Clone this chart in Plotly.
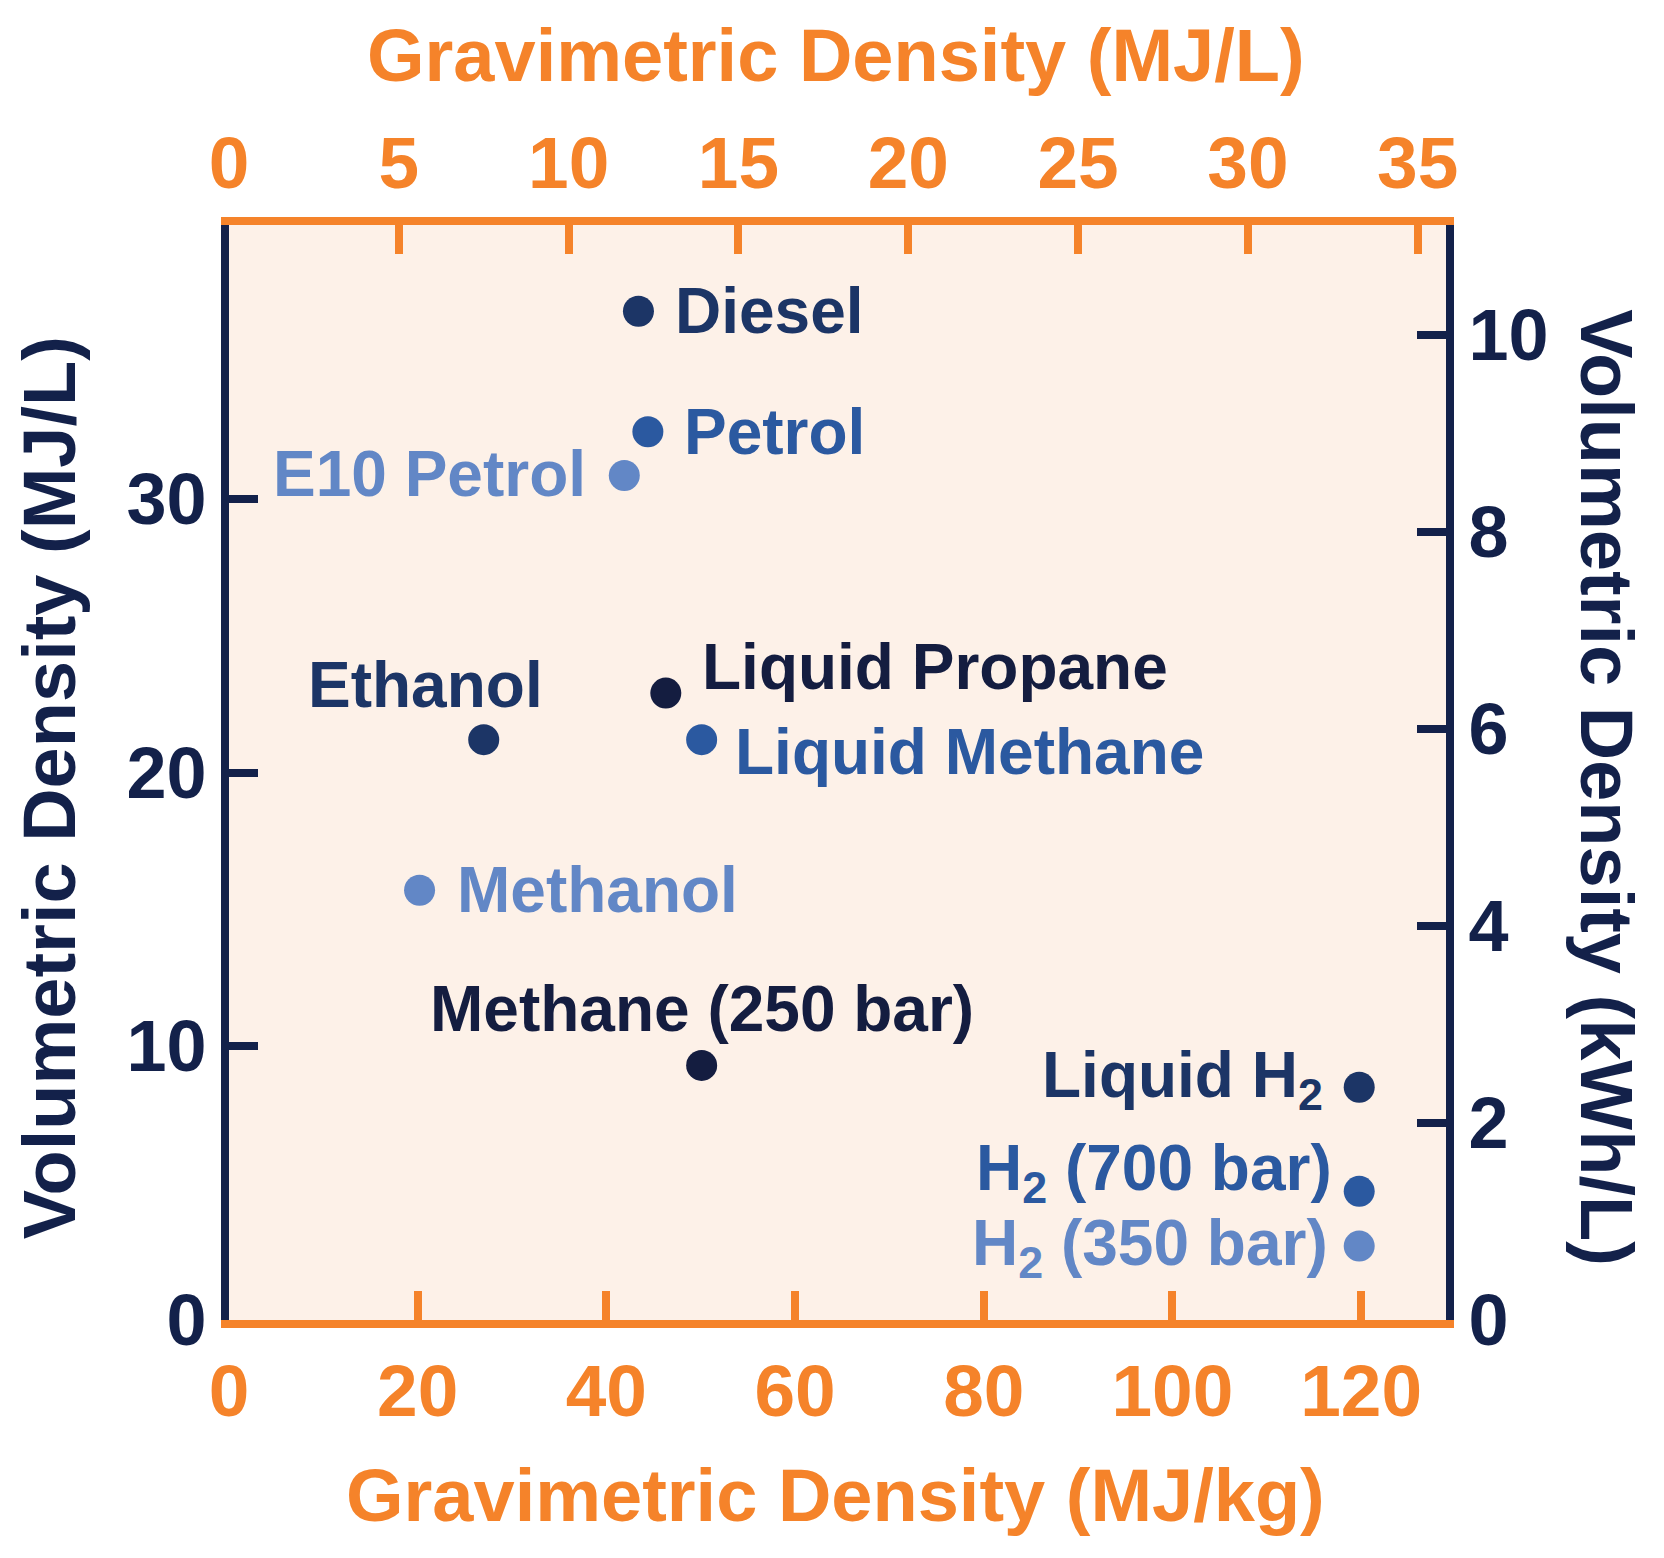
import plotly.graph_objects as go

# ---------------- data ----------------
fuels = ["Diesel", "Petrol", "E10 Petrol", "Liquid Propane", "Ethanol",
         "Liquid Methane", "Methanol", "Methane (250 bar)", "Liquid H<sub>2</sub>",
         "H<sub>2</sub> (700 bar)", "H<sub>2</sub> (350 bar)"]
grav_mj_kg = [43.4, 44.4, 41.9, 46.3, 27.0, 50.1, 20.2, 50.1, 119.8, 119.8, 119.8]
vol_mj_l = [36.85, 32.45, 30.85, 22.9, 21.2, 21.2, 15.7, 9.3, 8.5, 4.7, 2.7]
shade = ["dark", "mid", "light", "darkest", "dark", "mid", "light", "darkest",
         "dark", "mid", "light"]

bottom_ticks = [0, 20, 40, 60, 80, 100, 120]
top_ticks = [0, 5, 10, 15, 20, 25, 30, 35]
left_ticks = [0, 10, 20, 30]
right_ticks = [0, 2, 4, 6, 8, 10]

MJ_PER_KWH = 3.6
X_MAX = 129.0
Y_MAX = 40.0

# ---------------- style ----------------
ORANGE = "#F5832A"
NAVY = "#13214A"
PLOT_BG = "#FDF1E8"
SHADES = {"darkest": "#141D40", "dark": "#1C3566", "mid": "#2B59A0", "light": "#6287C6"}
FONT = "Liberation Sans, Arial, Helvetica, sans-serif"

# label placement (anchor, xshift px, yshift px)
placement = {
    "Diesel": ("left", 35, 0),
    "Petrol": ("left", 34, 0),
    "E10 Petrol": ("right", -36, 1),
    "Liquid Propane": ("left", 34, 26),
    "Ethanol": ("right", 61, 55),
    "Liquid Methane": ("left", 31, -12),
    "Methanol": ("left", 35, 0),
    "Methane (250 bar)": ("center", 0, 56),
    "Liquid H<sub>2</sub>": ("right", -34, 8),
    "H<sub>2</sub> (700 bar)": ("right", -25, 19),
    "H<sub>2</sub> (350 bar)": ("right", -29, -1),
}

colors = [SHADES[s] for s in shade]

fig = go.Figure()
fig.add_trace(go.Scatter(
    x=grav_mj_kg, y=vol_mj_l, mode="markers",
    marker=dict(size=31, color=colors, line=dict(width=0)),
    showlegend=False, hoverinfo="skip", xaxis="x", yaxis="y",
))
# empty trace to anchor the secondary (top/right) axes
fig.add_trace(go.Scatter(x=[], y=[], xaxis="x2", yaxis="y2", showlegend=False,
                         hoverinfo="skip"))

for name, xv, yv, c in zip(fuels, grav_mj_kg, vol_mj_l, colors):
    anchor, dx, dy = placement[name]
    fig.add_annotation(
        x=xv, y=yv, xref="x", yref="y", text=name, showarrow=False,
        xanchor=anchor, yanchor="middle", xshift=dx, yshift=dy,
        font=dict(family=FONT, size=64, color=c, weight="bold"),
    )

tick_font_o = dict(family=FONT, size=73, color=ORANGE, weight="bold")
tick_font_n = dict(family=FONT, size=72, color=NAVY, weight="bold")

fig.update_layout(
    width=1664, height=1558,
    margin=dict(l=221, r=226, t=217, b=246, autoexpand=False),
    paper_bgcolor="white", plot_bgcolor=PLOT_BG,
    xaxis=dict(range=[0, X_MAX], tickvals=bottom_ticks, ticks="inside", ticklen=29,
               tickwidth=8, tickcolor=ORANGE, showline=True, linewidth=8,
               linecolor=ORANGE, showgrid=False, zeroline=False,
               tickfont=tick_font_o, fixedrange=True),
    xaxis2=dict(range=[0, X_MAX / MJ_PER_KWH], tickvals=top_ticks, overlaying="x",
                side="top", anchor="y", ticks="inside", ticklen=29, tickwidth=8,
                tickcolor=ORANGE, showline=True, linewidth=8, linecolor=ORANGE,
                showgrid=False, zeroline=False, tickfont=tick_font_o),
    yaxis=dict(range=[0, Y_MAX], tickvals=left_ticks, ticks="inside", ticklen=29,
               tickwidth=8, tickcolor=NAVY, showline=True, linewidth=8,
               linecolor=NAVY, showgrid=False, zeroline=False,
               tickfont=tick_font_n),
    yaxis2=dict(range=[0, Y_MAX / MJ_PER_KWH], tickvals=right_ticks, overlaying="y",
                side="right", anchor="x", ticks="inside", ticklen=29, tickwidth=8,
                tickcolor=NAVY, showline=True, linewidth=8, linecolor=NAVY,
                showgrid=False, zeroline=False, tickfont=tick_font_n),
)

title_o = dict(family=FONT, size=74, color=ORANGE, weight="bold")
title_n = dict(family=FONT, size=74, color=NAVY, weight="bold")
fig.add_annotation(text="Gravimetric Density (MJ/L)", xref="paper", yref="paper",
                   x=0.4985, y=1.155, xanchor="center", yanchor="middle",
                   showarrow=False, font=title_o)
fig.add_annotation(text="Gravimetric Density (MJ/kg)", xref="paper", yref="paper",
                   x=0.4985, y=-0.16, xanchor="center", yanchor="middle",
                   showarrow=False, font=title_o)
fig.add_annotation(text="Volumetric Density (MJ/L)", xref="paper", yref="paper",
                   x=-0.1475, y=0.486, xanchor="center", yanchor="middle",
                   textangle=-90, showarrow=False, font=title_n)
fig.add_annotation(text="Volumetric Density (kWh/L)", xref="paper", yref="paper",
                   x=1.132, y=0.486, xanchor="center", yanchor="middle",
                   textangle=90, showarrow=False, font=title_n)

fig.write_html("out.html")
